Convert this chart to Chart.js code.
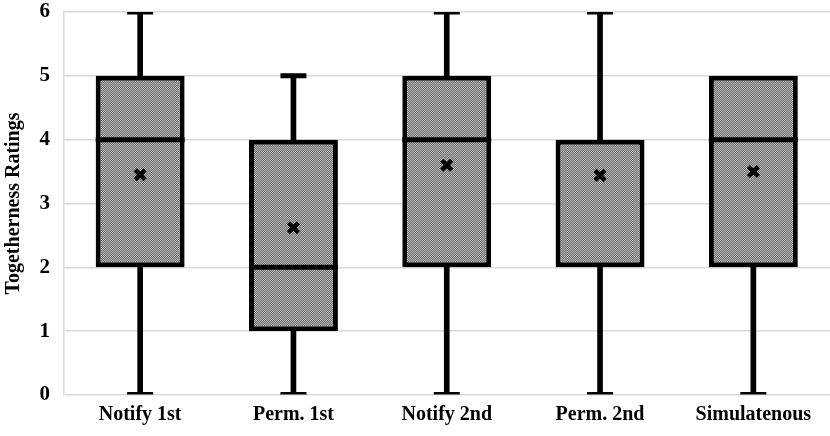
<!DOCTYPE html>
<html>
<head>
<meta charset="utf-8">
<script src="https://cdn.jsdelivr.net/npm/chart.js@4.4.0/dist/chart.umd.min.js"></script>
<style>
  html, body { margin: 0; padding: 0; background: #fff; overflow: hidden; }
  #wrap { width: 830px; height: 436px; }
</style>
</head>
<body>
<div id="wrap"><canvas id="mycanvas"></canvas></div>
<script>
// box plot values
var categories = ['Notify 1st', 'Perm. 1st', 'Notify 2nd', 'Perm. 2nd', 'Simulatenous'];
var minVals    = [0, 0, 0, 0, 0];
var q1Vals     = [2, 1, 2, 2, 2];
var medianVals = [4, 2, 4, 4, 4];
var q3Vals     = [5, 4, 5, 4, 5];
var maxVals    = [6, 5, 6, 6, 5];
var meanVals   = [3.45, 2.62, 3.6, 3.44, 3.5];

var BOX_PCT = 0.58;

// stippled grey fill like the original
function makePattern() {
    var c = document.createElement('canvas');
    c.width = 2; c.height = 2;
    var g = c.getContext('2d');
    g.fillStyle = '#6c6c6c';
    g.fillRect(0, 0, 2, 2);
    g.fillStyle = '#b8b8b8';
    g.fillRect(0, 0, 1, 1);
    g.fillRect(1, 1, 1, 1);
    return g.createPattern(c, 'repeat');
}
var fill = makePattern();

var boxes = [], lowerWhisker = [], upperWhisker = [], topCaps = [], medians = [];
for (var i in categories) {
    boxes.push([q1Vals[i], q3Vals[i]]);
    lowerWhisker.push([minVals[i], q1Vals[i]]);
    upperWhisker.push(maxVals[i] > q3Vals[i] ? [q3Vals[i], maxVals[i]] : null);
    topCaps.push(maxVals[i] > q3Vals[i] ? maxVals[i] : null);
    // median sitting on the box edge is already drawn by the border
    medians.push(medianVals[i] < q3Vals[i] && medianVals[i] > q1Vals[i] ? medianVals[i] : null);
}

var whiskerStyle = {
    type: 'bar',
    backgroundColor: '#000',
    borderWidth: 0,
    grouped: false,
    barThickness: 5,
    order: 3
};
var pointStyleBase = {
    type: 'line',
    showLine: false,
    pointBackgroundColor: '#000'
};
function halfBox(c) {
    return c.chart.scales.x.width / categories.length * BOX_PCT / 2;
}

var ctx = document.getElementById('mycanvas');
var chart = new Chart(ctx, {
    data: {
        labels: categories,
        datasets: [
            Object.assign({ label: 'lower whisker', data: lowerWhisker }, whiskerStyle),
            Object.assign({ label: 'upper whisker', data: upperWhisker }, whiskerStyle),
            {
                type: 'bar',
                label: 'box',
                data: boxes,
                backgroundColor: fill,
                borderColor: '#000',
                borderWidth: 5,
                borderSkipped: false,
                grouped: false,
                barPercentage: BOX_PCT,
                categoryPercentage: 1,
                order: 2
            },
            Object.assign({ label: 'median', data: medians, pointStyle: 'line', pointRadius: halfBox,
                pointBorderColor: '#000', pointBorderWidth: 5, order: 1 }, pointStyleBase),
            Object.assign({ label: 'top cap', data: topCaps, pointStyle: 'line', pointRadius: 13,
                pointBorderColor: '#000', pointBorderWidth: 5, order: 1 }, pointStyleBase),
            Object.assign({ label: 'bottom cap', data: minVals, pointStyle: 'line', pointRadius: 13,
                pointBorderColor: '#000', pointBorderWidth: 6, order: 1 }, pointStyleBase),
            Object.assign({ label: 'bottom cap gap', data: minVals, pointStyle: 'line', pointRadius: 13,
                pointBorderColor: '#9a9a9a', pointBorderWidth: 1.5, order: 0 }, pointStyleBase),
            Object.assign({ label: 'mean', data: meanVals, pointStyle: 'crossRot', pointRadius: 7,
                pointBorderColor: '#000', pointBorderWidth: 4.5, order: 0 }, pointStyleBase)
        ]
    },
    options: {
        responsive: true,
        maintainAspectRatio: false,
        animation: false,
        layout: { autoPadding: false, padding: { top: 12, right: 0, left: 2, bottom: 1 } },
        plugins: { legend: { display: false }, tooltip: { enabled: false } },
        scales: {
            x: {
                grid: { display: false, drawTicks: false },
                border: { display: false },
                ticks: {
                    color: '#000',
                    padding: 8,
                    font: { family: 'Liberation Serif', size: 20, weight: 'bold' }
                }
            },
            y: {
                min: 0,
                max: 6,
                // the top label may stick out above the plot, as in the original
                afterFit: function (scale) {
                    scale.paddingTop = 0;
                    scale.paddingBottom = 0;
                },
                ticks: {
                    stepSize: 1,
                    color: '#000',
                    padding: 13.5,
                    font: { family: 'Liberation Serif', size: 21, weight: 'bold' }
                },
                grid: { color: '#d9d9d9', lineWidth: 1.5, tickLength: 0 },
                border: { color: '#d9d9d9', width: 1.5 },
                title: {
                    display: true,
                    text: 'Togetherness Ratings',
                    color: '#000',
                    padding: { top: 0, bottom: 0 },
                    font: { family: 'Liberation Serif', size: 20, weight: 'bold' }
                }
            }
        }
    }
});
</script>
</body>
</html>
